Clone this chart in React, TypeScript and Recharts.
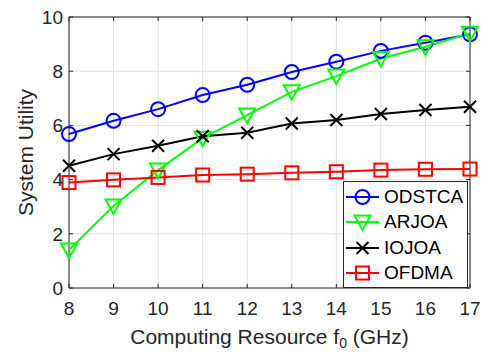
import {
  CartesianGrid,
  Legend,
  Line,
  LineChart,
  ReferenceArea,
  ReferenceLine,
  XAxis,
  YAxis,
} from "recharts";

const resources = [8, 9, 10, 11, 12, 13, 14, 15, 16, 17];
const odstca = [5.68, 6.17, 6.6, 7.12, 7.5, 7.97, 8.35, 8.75, 9.05, 9.36];
const arjoa = [1.4, 3.03, 4.35, 5.53, 6.38, 7.24, 7.82, 8.47, 8.9, 9.4];
const iojoa = [4.51, 4.94, 5.25, 5.6, 5.73, 6.07, 6.2, 6.42, 6.57, 6.69];
const ofdma = [3.89, 3.99, 4.08, 4.17, 4.2, 4.25, 4.29, 4.35, 4.38, 4.39];

const xTicks = [8, 9, 10, 11, 12, 13, 14, 15, 16, 17];
const yTicks = [0, 2, 4, 6, 8, 10];

type Shape = "circle" | "triangle" | "cross" | "square";

const seriesDefs: { key: string; name: string; color: string; shape: Shape }[] = [
  { key: "odstca", name: "ODSTCA", color: "#0000ff", shape: "circle" },
  { key: "arjoa", name: "ARJOA", color: "#00ff00", shape: "triangle" },
  { key: "iojoa", name: "IOJOA", color: "#000000", shape: "cross" },
  { key: "ofdma", name: "OFDMA", color: "#ff0000", shape: "square" },
];

const data = resources.map((x, i) => ({
  x,
  odstca: odstca[i],
  arjoa: arjoa[i],
  iojoa: iojoa[i],
  ofdma: ofdma[i],
}));

const FONT = "'Liberation Sans', Arial, Helvetica, sans-serif";
const AXIS = "#262626";

function Marker({ shape, cx, cy, color }: { shape: Shape; cx: number; cy: number; color: string }) {
  const common = { fill: "none", stroke: color, strokeWidth: 2 };
  if (shape === "circle") return <circle cx={cx} cy={cy} r={7} {...common} />;
  if (shape === "triangle")
    return (
      <polygon
        points={`${cx - 8},${cy - 6.5} ${cx + 8},${cy - 6.5} ${cx},${cy + 8}`}
        {...common}
      />
    );
  if (shape === "square")
    return <rect x={cx - 6.5} y={cy - 6.5} width={13} height={13} {...common} />;
  return (
    <path
      d={`M${cx - 6},${cy - 6}L${cx + 6},${cy + 6}M${cx - 6},${cy + 6}L${cx + 6},${cy - 6}`}
      {...common}
    />
  );
}

function LegendBox() {
  return (
    <div
      style={{
        border: `1px solid ${AXIS}`,
        background: "#fff",
        padding: "2px 0 1px 0",
        width: 125,
        boxSizing: "border-box",
        fontFamily: FONT,
        fontSize: 19,
        color: "#000",
      }}
    >
      {seriesDefs.map((s) => (
        <div key={s.key} style={{ display: "flex", alignItems: "center", height: 25.5 }}>
          <svg width={38} height={22} style={{ display: "block" }}>
            <line x1={2} y1={11} x2={35} y2={11} stroke={s.color} strokeWidth={2} />
            <Marker shape={s.shape} cx={18.5} cy={11} color={s.color} />
          </svg>
          <span style={{ marginLeft: 2, lineHeight: "22px" }}>{s.name}</span>
        </div>
      ))}
    </div>
  );
}

export default function App() {
  return (
    <div style={{ position: "fixed", left: 0, top: 0, background: "#fff" }}>
      <LineChart
        width={488}
        height={352}
        data={data}
        margin={{ top: 17, right: 18, bottom: 0, left: 0 }}
      >
        <CartesianGrid stroke="#dfdfdf" strokeWidth={1} />
        <XAxis
          dataKey="x"
          type="number"
          domain={[8, 17]}
          ticks={xTicks}
          axisLine={false}
          tickLine={false}
          tickSize={0}
          tickMargin={14}
          height={64}
          tick={{ fill: AXIS, fontSize: 19, fontFamily: FONT }}
          label={(props: any) => {
            const vb = props.viewBox;
            return (
              <text
                x={vb.x + vb.width / 2}
                y={344}
                textAnchor="middle"
                fill={AXIS}
                fontSize={21}
                fontFamily={FONT}
              >
                Computing Resource f
                <tspan dy={4} fontSize={14}>0</tspan>
                <tspan dy={-4}> (GHz)</tspan>
              </text>
            );
          }}
        />
        <YAxis
          type="number"
          domain={[0, 10]}
          ticks={yTicks}
          width={69}
          axisLine={false}
          tickLine={false}
          tickSize={0}
          tickMargin={6}
          tick={{ fill: AXIS, fontSize: 19, fontFamily: FONT }}
          label={(props: any) => {
            const vb = props.viewBox;
            const cy = vb.y + vb.height / 2;
            return (
              <text
                x={33}
                y={cy}
                transform={`rotate(-90, 33, ${cy})`}
                textAnchor="middle"
                fill={AXIS}
                fontSize={21}
                fontFamily={FONT}
              >
                System Utility
              </text>
            );
          }}
        />
        <ReferenceArea x1={8} x2={17} y1={0} y2={10} fill="none" stroke={AXIS} strokeWidth={1} />
        {xTicks.map((t) => (
          <ReferenceLine
            key={`xb${t}`}
            segment={[{ x: t, y: 0 }, { x: t, y: 0.15 }]}
            stroke={AXIS}
          />
        ))}
        {xTicks.map((t) => (
          <ReferenceLine
            key={`xt${t}`}
            segment={[{ x: t, y: 10 }, { x: t, y: 9.85 }]}
            stroke={AXIS}
          />
        ))}
        {yTicks.map((t) => (
          <ReferenceLine
            key={`yl${t}`}
            segment={[{ x: 8, y: t }, { x: 8.09, y: t }]}
            stroke={AXIS}
          />
        ))}
        {yTicks.map((t) => (
          <ReferenceLine
            key={`yr${t}`}
            segment={[{ x: 17, y: t }, { x: 16.91, y: t }]}
            stroke={AXIS}
          />
        ))}
        {seriesDefs.map((s) => (
          <Line
            key={s.key}
            dataKey={s.key}
            name={s.name}
            type="linear"
            stroke={s.color}
            strokeWidth={2}
            isAnimationActive={false}
            dot={(p: any) => (
              <Marker key={`${s.key}-${p.index}`} shape={s.shape} cx={p.cx} cy={p.cy} color={s.color} />
            )}
            activeDot={false}
          />
        ))}
        <Legend
          layout="vertical"
          align="center"
          verticalAlign="middle"
          content={() => <LegendBox />}
          wrapperStyle={{ left: 343, top: 181, width: 125 }}
        />
      </LineChart>
    </div>
  );
}
